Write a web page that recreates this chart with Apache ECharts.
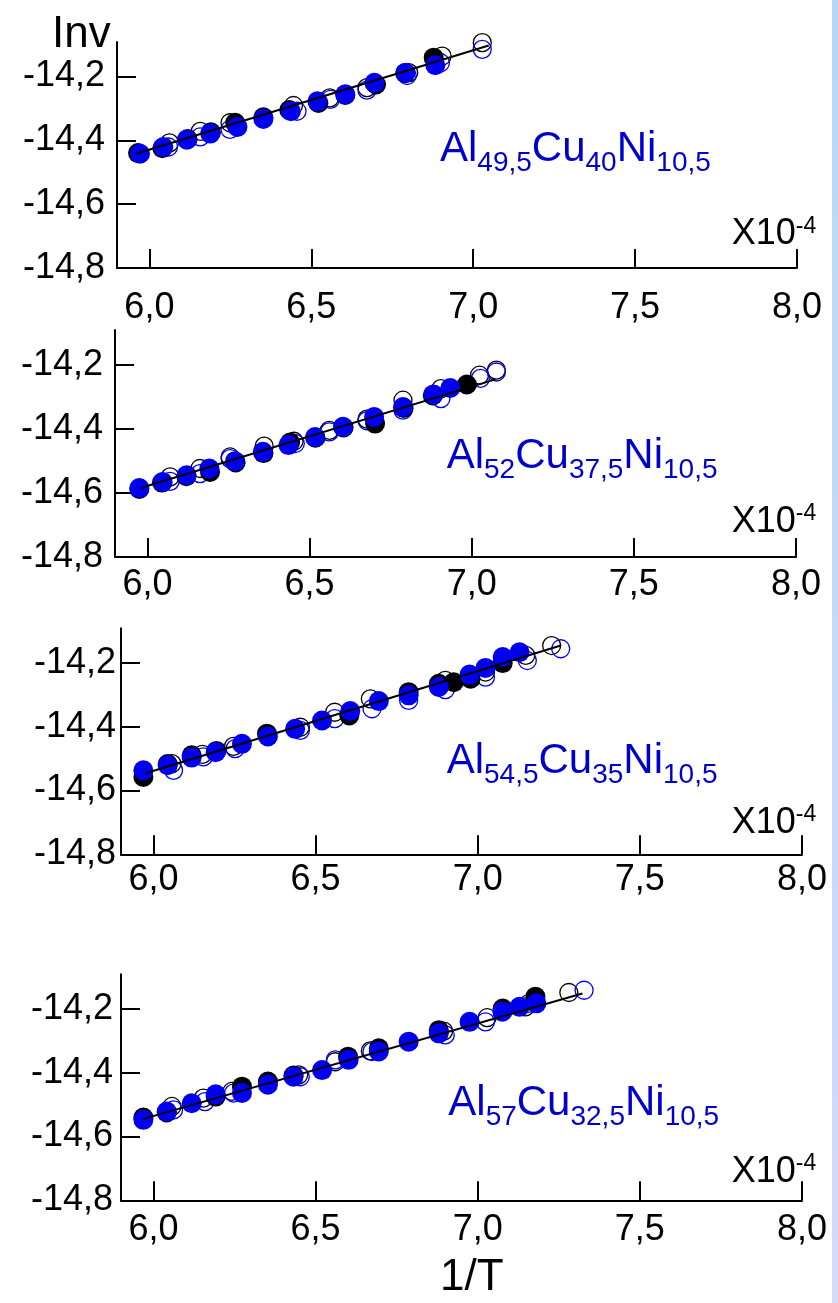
<!DOCTYPE html>
<html>
<head>
<meta charset="utf-8">
<script src="https://cdn.jsdelivr.net/npm/echarts@6/dist/echarts.min.js"></script>
<style>
html,body{margin:0;padding:0;background:#fff;}
#wrap{position:relative;width:838px;height:1303px;overflow:hidden;}
#chart{position:absolute;left:0;top:0;width:838px;height:1303px;}
#strip{position:absolute;left:832px;top:0;width:6px;height:1303px;background:linear-gradient(#b9d7f7,#c9d9f8 60%,#d5daf7);}
</style>
</head>
<body>
<div id="wrap"><div id="chart"></div><div id="strip"></div></div>
<script>
// ---- tick values ----
const xTicks = [6.0, 6.5, 7.0, 7.5, 8.0];
const yTicks = [-14.8, -14.6, -14.4, -14.2];

// ---- compositions (Al, Cu, Ni subscripts) ----
const alloyAl = ['49,5', '52', '54,5', '57'];
const alloyCu = ['40', '37,5', '35', '32,5'];
const alloyNi = ['10,5', '10,5', '10,5', '10,5'];

// ---- Panel 1: Al49,5Cu40Ni10,5 ----
const p1BlueFilled = [[5.971,-14.442],[6.043,-14.421],[6.116,-14.398],[6.188,-14.379],[6.272,-14.358],[6.352,-14.333],[6.437,-14.309],[6.519,-14.278],[6.605,-14.256],[6.695,-14.220],[6.791,-14.188],[6.883,-14.165]];
const p1BlackFilled = [[5.965,-14.440],[6.040,-14.425],[6.118,-14.396],[6.190,-14.375],[6.265,-14.345],[6.352,-14.328],[6.432,-14.305],[6.522,-14.283],[6.605,-14.258],[6.700,-14.225],[6.790,-14.190],[6.878,-14.141]];
const p1BlackOpen = [[6.062,-14.408],[6.157,-14.372],[6.249,-14.345],[6.445,-14.291],[6.557,-14.267],[6.672,-14.235],[6.801,-14.188],[6.904,-14.136],[7.028,-14.094]];
const p1BlueOpen = [[6.059,-14.421],[6.157,-14.389],[6.249,-14.366],[6.456,-14.309],[6.559,-14.272],[6.672,-14.243],[6.796,-14.197],[6.899,-14.157],[7.028,-14.115]];
const p1Fit = [[5.959,-14.442],[7.048,-14.103]];

// ---- Panel 2: Al52Cu37,5Ni10,5 ----
const p2BlueFilled = [[5.975,-14.585],[6.047,-14.566],[6.121,-14.545],[6.191,-14.524],[6.270,-14.501],[6.356,-14.472],[6.435,-14.451],[6.517,-14.426],[6.603,-14.394],[6.699,-14.363],[6.788,-14.332],[6.882,-14.293],[6.934,-14.273]];
const p2BlackFilled = [[5.975,-14.588],[6.045,-14.568],[6.120,-14.548],[6.193,-14.535],[6.272,-14.505],[6.358,-14.476],[6.440,-14.443],[6.518,-14.428],[6.605,-14.396],[6.702,-14.384],[6.790,-14.335],[6.880,-14.296],[6.985,-14.262]];
const p2BlackOpen = [[6.070,-14.550],[6.162,-14.524],[6.255,-14.488],[6.360,-14.454],[6.452,-14.439],[6.561,-14.405],[6.677,-14.370],[6.788,-14.311],[6.905,-14.275],[7.024,-14.233],[7.076,-14.217]];
const p2BlueOpen = [[6.070,-14.564],[6.162,-14.540],[6.255,-14.493],[6.456,-14.446],[6.561,-14.410],[6.677,-14.375],[6.788,-14.342],[6.905,-14.306],[7.027,-14.243],[7.076,-14.223]];
const p2Fit = [[5.979,-14.585],[7.073,-14.246]];

// ---- Panel 3: Al54,5Cu35Ni10,5 ----
const p3BlueFilled = [[5.969,-14.537],[6.044,-14.521],[6.118,-14.497],[6.192,-14.480],[6.273,-14.454],[6.353,-14.431],[6.437,-14.407],[6.520,-14.381],[6.607,-14.351],[6.695,-14.320],[6.787,-14.302],[6.880,-14.276],[6.975,-14.237],[7.024,-14.216],[7.077,-14.182],[7.129,-14.167]];
const p3BlackFilled = [[5.969,-14.558],[6.044,-14.517],[6.118,-14.490],[6.194,-14.476],[6.350,-14.422],[6.604,-14.365],[6.787,-14.292],[6.880,-14.266],[6.926,-14.261],[6.978,-14.250],[7.077,-14.201]];
const p3BlackOpen = [[6.057,-14.516],[6.151,-14.487],[6.247,-14.462],[6.453,-14.402],[6.559,-14.355],[6.669,-14.313],[6.900,-14.255],[7.024,-14.229],[7.148,-14.177],[7.228,-14.146]];
const p3BlueOpen = [[6.062,-14.537],[6.154,-14.495],[6.252,-14.469],[6.453,-14.412],[6.559,-14.375],[6.674,-14.344],[6.787,-14.318],[6.900,-14.284],[7.024,-14.245],[7.153,-14.193],[7.256,-14.156]];
const p3Fit = [[5.976,-14.546],[7.256,-14.146]];

// ---- Panel 4: Al57Cu32,5Ni10,5 ----
const p4BlueFilled = [[5.969,-14.548],[6.041,-14.522],[6.118,-14.496],[6.192,-14.468],[6.273,-14.464],[6.353,-14.438],[6.432,-14.413],[6.520,-14.392],[6.602,-14.360],[6.695,-14.334],[6.787,-14.303],[6.880,-14.277],[6.975,-14.241],[7.076,-14.209],[7.129,-14.194],[7.181,-14.183]];
const p4BlackFilled = [[5.969,-14.541],[6.041,-14.525],[6.192,-14.475],[6.273,-14.444],[6.353,-14.428],[6.432,-14.409],[6.600,-14.350],[6.695,-14.324],[6.880,-14.267],[7.077,-14.199],[7.178,-14.162]];
const p4BlackOpen = [[6.057,-14.506],[6.154,-14.480],[6.242,-14.459],[6.448,-14.407],[6.561,-14.366],[6.669,-14.332],[6.895,-14.270],[7.029,-14.228],[7.147,-14.194],[7.281,-14.149]];
const p4BlueOpen = [[6.062,-14.517],[6.159,-14.491],[6.247,-14.464],[6.453,-14.413],[6.561,-14.360],[6.674,-14.334],[6.900,-14.282],[7.024,-14.241],[7.158,-14.183],[7.328,-14.142]];
const p4Fit = [[5.969,-14.545],[7.323,-14.152]];

const panels = [
  {blueF:p1BlueFilled, blackF:p1BlackFilled, blackO:p1BlackOpen, blueO:p1BlueOpen, fit:p1Fit},
  {blueF:p2BlueFilled, blackF:p2BlackFilled, blackO:p2BlackOpen, blueO:p2BlueOpen, fit:p2Fit},
  {blueF:p3BlueFilled, blackF:p3BlackFilled, blackO:p3BlackOpen, blueO:p3BlueOpen, fit:p3Fit},
  {blueF:p4BlueFilled, blackF:p4BlackFilled, blackO:p4BlackOpen, blueO:p4BlueOpen, fit:p4Fit}
];

// ---- layout (pixels) ----
const gridsLayout = [
  {left:117, top:42,    width:680, height:226, yMargin:12, xMargin:22, labelX:440,   labelC:128, expC:215},
  {left:115, top:330,   width:681, height:227, yMargin:12, xMargin:10, labelX:446.7, labelC:435, expC:502.5},
  {left:121, top:628.3, width:681, height:226, yMargin:5,  xMargin:8,  labelX:446.7, labelC:740.5, expC:803.5},
  {left:121, top:974.3, width:681, height:226, yMargin:8,  xMargin:12, labelX:448.3, labelC:1082, expC:1152.5}
];

const FONT = "'Liberation Sans', Arial, sans-serif";
const BLUE = '#0000ee';
const TEXTBLUE = '#0000cc';
const fmt = v => v.toFixed(1).replace('.', ',');

const grid = [], xAxis = [], yAxis = [], series = [], graphic = [];
gridsLayout.forEach((g, i) => {
  grid.push({left:g.left, top:g.top, width:g.width, height:g.height, containLabel:false});
  xAxis.push({
    gridIndex:i, type:'value', min:5.9, max:8.0,
    axisLine:{show:true, onZero:false, lineStyle:{color:'#000', width:2}},
    axisTick:{show:true, inside:true, length:19, customValues:xTicks, lineStyle:{color:'#000', width:2}},
    axisLabel:{show:true, customValues:xTicks, formatter:fmt, fontSize:36, fontFamily:FONT, color:'#000', margin:g.xMargin},
    splitLine:{show:false}
  });
  yAxis.push({
    gridIndex:i, type:'value', min:-14.8, max:-14.092,
    axisLine:{show:true, onZero:false, lineStyle:{color:'#000', width:2}},
    axisTick:{show:true, inside:true, length:19, customValues:yTicks, lineStyle:{color:'#000', width:2}},
    axisLabel:{show:true, customValues:yTicks, formatter:fmt, fontSize:36, fontFamily:FONT, color:'#000', margin:g.yMargin},
    splitLine:{show:false}
  });
  const p = panels[i];
  const sc = (data, size, style, z) => ({
    type:'scatter', xAxisIndex:i, yAxisIndex:i, data:data, symbol:'circle', symbolSize:size,
    itemStyle:Object.assign({opacity:1}, style), clip:false, z:z, emphasis:{disabled:true}, silent:true
  });
  series.push(sc(p.blackO, 18, {color:'rgba(0,0,0,0)', borderColor:'#000', borderWidth:1.3}, 2));
  series.push(sc(p.blueO, 18, {color:'rgba(0,0,0,0)', borderColor:BLUE, borderWidth:1.3}, 3));
  series.push(sc(p.blackF, 20, {color:'#000'}, 4));
  series.push(sc(p.blueF, 20, {color:BLUE}, 5));
  series.push({type:'line', xAxisIndex:i, yAxisIndex:i, data:p.fit, showSymbol:false, symbol:'none',
    lineStyle:{color:'#000', width:2, opacity:1}, z:6, silent:true, clip:false});

  graphic.push({
    type:'text', left:g.labelX, top:g.labelC, z:10,
    style:{
      x:0, y:0,
      text:'{m|Al}{s|' + alloyAl[i] + '}{m|Cu}{s|' + alloyCu[i] + '}{m|Ni}{s|' + alloyNi[i] + '}',
      fill:TEXTBLUE, font:'42px ' + FONT, verticalAlign:'middle',
      rich:{
        m:{fontSize:42, fontFamily:FONT, fill:TEXTBLUE, color:TEXTBLUE},
        s:{fontSize:28, fontFamily:FONT, fill:TEXTBLUE, color:TEXTBLUE, padding:[28,0,0,0]}
      }
    }
  });
  graphic.push({
    type:'text', left:731.7, top:g.expC, z:10,
    style:{
      x:0, y:0,
      text:'{m|X10}{s|-4}',
      fill:'#000', font:'36px ' + FONT, verticalAlign:'middle',
      rich:{
        m:{fontSize:36, fontFamily:FONT, fill:'#000', color:'#000'},
        s:{fontSize:23, fontFamily:FONT, fill:'#000', color:'#000', padding:[0,0,16,0]}
      }
    }
  });
});

graphic.push({type:'text', left:52, top:13, z:10, style:{text:'Inv', fill:'#000', font:'44px ' + FONT}});
graphic.push({type:'text', left:440, top:1256, z:10, style:{text:'1/T', fill:'#000', font:'44px ' + FONT}});

const chart = echarts.init(document.getElementById('chart'), null, {renderer:'canvas'});
chart.setOption({animation:false, backgroundColor:'#fff', grid, xAxis, yAxis, series, graphic});
</script>
</body>
</html>
